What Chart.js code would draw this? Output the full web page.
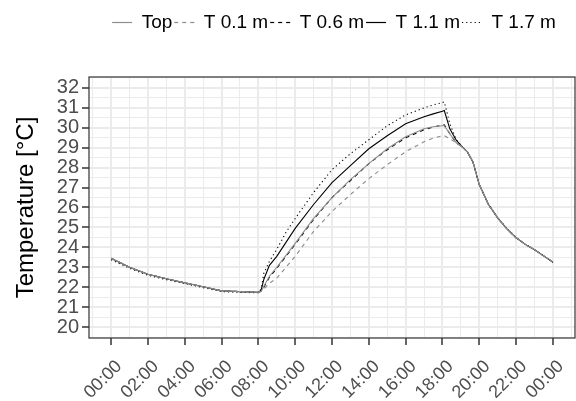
<!DOCTYPE html>
<html>
<head>
<meta charset="utf-8">
<script src="https://cdn.jsdelivr.net/npm/chart.js@4.4.0/dist/chart.umd.min.js"></script>
<style>
    html, body { margin: 0; padding: 0; background: #fff; }
    #wrap { width: 576px; height: 401px; }
</style>
</head>
<body>
<div id="wrap"><canvas id="myCanvas" width="576" height="401"></canvas></div>
<script>
// time of day in hours (24 = midnight next day)
const hours = [0, 1, 2, 3, 4, 5, 6, 7, 8, 8.15, 8.3, 8.6, 9, 9.5, 10, 11, 12, 13, 14, 15, 16, 17, 17.5, 18, 18.1, 18.4, 18.75, 19.05, 19.35, 19.65, 20, 20.5, 21, 21.5, 22, 22.5, 23, 23.5, 24]

const seriesNames = ['Top', 'T 0.1 m', 'T 0.6 m', 'T 1.1 m', 'T 1.7 m']

const topValues = [23.45, 23.0, 22.65, 22.42, 22.22, 22.02, 21.82, 21.78, 21.75, 21.8, 22.05, 22.55, 23.0, 23.6, 24.2, 25.45, 26.5, 27.4, 28.2, 28.95, 29.55, 29.95, 30.05, 30.1, 30.1, 29.7, 29.25, 29.05, 28.8, 28.3, 27.15, 26.15, 25.48, 24.93, 24.48, 24.15, 23.88, 23.57, 23.27]
const t01Values = [23.45, 23.0, 22.65, 22.42, 22.22, 22.02, 21.82, 21.78, 21.75, 21.78, 21.9, 22.2, 22.45, 23.0, 23.55, 24.8, 25.8, 26.65, 27.45, 28.15, 28.8, 29.3, 29.48, 29.6, 29.6, 29.45, 29.25, 29.05, 28.78, 28.3, 27.15, 26.15, 25.48, 24.93, 24.48, 24.15, 23.88, 23.57, 23.27]
const t06Values = [23.45, 23.0, 22.65, 22.42, 22.22, 22.02, 21.82, 21.78, 21.75, 21.8, 22.0, 22.5, 22.95, 23.55, 24.15, 25.4, 26.5, 27.35, 28.2, 28.9, 29.5, 29.9, 30.05, 30.13, 30.15, 29.7, 29.25, 29.05, 28.8, 28.3, 27.15, 26.15, 25.48, 24.93, 24.48, 24.15, 23.88, 23.57, 23.27]
const t11Values = [23.45, 23.0, 22.65, 22.42, 22.22, 22.02, 21.82, 21.78, 21.75, 21.85, 22.4, 23.1, 23.55, 24.25, 24.95, 26.15, 27.25, 28.1, 28.95, 29.6, 30.2, 30.55, 30.7, 30.83, 30.87, 29.95, 29.38, 29.07, 28.8, 28.3, 27.15, 26.15, 25.48, 24.93, 24.48, 24.15, 23.88, 23.57, 23.25]
const t17Values = [23.38, 22.95, 22.6, 22.38, 22.18, 21.98, 21.78, 21.74, 21.72, 21.9, 22.7, 23.3, 23.9, 24.75, 25.45, 26.75, 27.9, 28.7, 29.4, 30.1, 30.65, 31.0, 31.15, 31.27, 31.3, 30.2, 29.4, 29.07, 28.8, 28.3, 27.15, 26.15, 25.48, 24.95, 24.5, 24.15, 23.88, 23.57, 23.25]

// labelled ticks
const xTickHours = [0, 2, 4, 6, 8, 10, 12, 14, 16, 18, 20, 22, 24]
const xTickLabels = ['00:00', '02:00', '04:00', '06:00', '08:00', '10:00', '12:00', '14:00', '16:00', '18:00', '20:00', '22:00', '00:00']
const yTickValues = [20, 21, 22, 23, 24, 25, 26, 27, 28, 29, 30, 31, 32]

function toPoints(values) {
    return hours.map((h, i) => ({ x: h, y: values[i] }))
}

const isXMajor = v => xTickHours.indexOf(v) !== -1
const isYMajor = v => yTickValues.indexOf(v) !== -1

// ggplot-like panel border
const panelBorder = {
    id: 'panelBorder',
    afterDatasetsDraw(chart) {
        const { ctx, chartArea } = chart
        ctx.save()
        ctx.strokeStyle = '#333333'
        ctx.lineWidth = 1.2
        ctx.strokeRect(chartArea.left, chartArea.top, chartArea.right - chartArea.left, chartArea.bottom - chartArea.top)
        ctx.restore()
    }
}

// room above the panel, legend centred over the panel and pushed down a bit
const legendSpace = {
    id: 'legendSpace',
    beforeLayout(chart) {
        const legend = chart.legend
        if (legend && !legend._patched) {
            const origFit = legend.fit
            legend.fit = function () {
                origFit.call(this)
                this.height = 77
            }
            legend._patched = true
        }
    },
    afterLayout(chart) {
        const legend = chart.legend
        legend.left = chart.chartArea.left + 2
        legend.right = chart.chartArea.right + 2
        legend.top = 11
    }
}

const ctx = document.getElementById('myCanvas').getContext('2d')

Chart.defaults.font.family = '"Liberation Sans", Arial, sans-serif'

const lineBase = { pointRadius: 0, borderWidth: 1.1, tension: 0, fill: false }

new Chart(ctx, {
    type: 'line',
    data: {
        datasets: [
            { ...lineBase, label: seriesNames[0], data: toPoints(topValues), borderColor: '#8c8c8c' },
            { ...lineBase, label: seriesNames[1], data: toPoints(t01Values), borderColor: '#8c8c8c', borderDash: [4, 4] },
            { ...lineBase, label: seriesNames[2], data: toPoints(t06Values), borderColor: '#000000', borderDash: [4, 4] },
            { ...lineBase, label: seriesNames[3], data: toPoints(t11Values), borderColor: '#000000' },
            { ...lineBase, label: seriesNames[4], data: toPoints(t17Values), borderColor: '#000000', borderDash: [1.2, 3] }
        ]
    },
    options: {
        responsive: false,
        animation: false,
        layout: { padding: { right: 1, top: 0 } },
        plugins: {
            tooltip: { enabled: false },
            legend: {
                position: 'top',
                labels: {
                    usePointStyle: true,
                    pointStyle: 'line',
                    pointStyleWidth: 20,
                    padding: 2,
                    color: '#000000',
                    font: { size: 19 },
                    generateLabels(chart) {
                        const items = Chart.defaults.plugins.legend.labels.generateLabels(chart)
                        items.forEach(item => {
                            const ds = chart.data.datasets[item.datasetIndex]
                            item.strokeStyle = ds.borderColor
                            item.lineDash = ds.borderDash || []
                            item.lineWidth = 1.2
                            item.pointStyle = 'line'
                        })
                        return items
                    }
                }
            }
        },
        scales: {
            x: {
                type: 'linear',
                min: -1.2,
                max: 25.2,
                afterFit(scale) {
                    scale.height = 63
                    scale.paddingLeft = 0
                    scale.paddingRight = 0
                },
                ticks: {
                    stepSize: 1,
                    includeBounds: false,
                    autoSkip: false,
                    maxRotation: 45,
                    minRotation: 45,
                    padding: 11,
                    labelOffset: 8,
                    color: '#4d4d4d',
                    font: { size: 18 },
                    callback: v => {
                        const i = xTickHours.indexOf(v)
                        return i === -1 ? '' : xTickLabels[i]
                    }
                },
                grid: {
                    color: '#ebebeb',
                    lineWidth: c => isXMajor(c.tick.value) ? 2 : 1,
                    tickColor: c => isXMajor(c.tick.value) ? '#333333' : 'rgba(0,0,0,0)',
                    tickWidth: 1.5,
                    tickLength: 7
                },
                border: { display: false }
            },
            y: {
                type: 'linear',
                min: 19.45,
                max: 32.55,
                afterFit(scale) { scale.width = 89 },
                title: {
                    display: true,
                    text: 'Temperature [°C]',
                    color: '#000000',
                    font: { size: 24 },
                    padding: { top: 12, bottom: 0 }
                },
                ticks: {
                    stepSize: 0.5,
                    includeBounds: false,
                    autoSkip: false,
                    padding: 3,
                    color: '#4d4d4d',
                    font: { size: 20 },
                    callback: v => isYMajor(v) ? String(v) : ''
                },
                grid: {
                    color: '#ebebeb',
                    lineWidth: c => isYMajor(c.tick.value) ? 2 : 1,
                    tickColor: c => isYMajor(c.tick.value) ? '#333333' : 'rgba(0,0,0,0)',
                    tickWidth: 1.5,
                    tickLength: 7
                },
                border: { display: false }
            }
        }
    },
    plugins: [panelBorder, legendSpace]
})
</script>
</body>
</html>
